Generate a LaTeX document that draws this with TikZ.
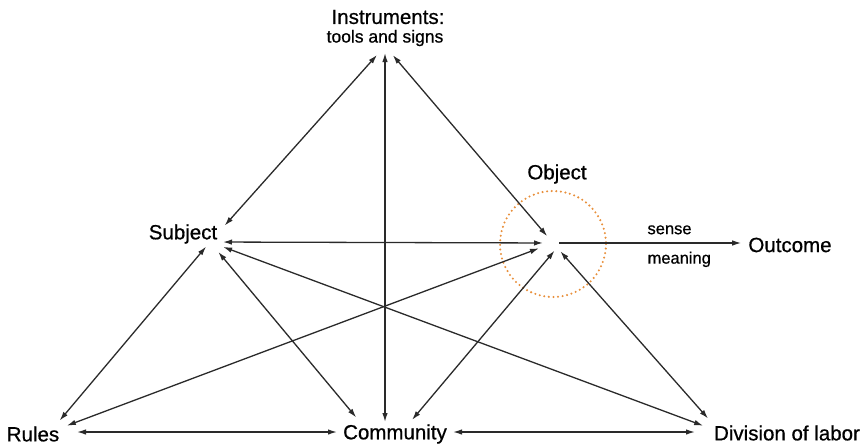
\documentclass[tikz,border=0pt]{standalone}
\usepackage{fontspec}
\setmainfont{Liberation Sans}
\newfontfamily\labfont{Liberation Sans}[FakeBold=0.7]
\usetikzlibrary{arrows.meta}
\definecolor{lineC}{HTML}{2A2A2A}
\definecolor{dotC}{HTML}{E8903C}
\begin{document}
\begin{tikzpicture}[x=1pt,y=-1pt,
  lab/.style={font=\labfont\fontsize{20.5}{22}\selectfont, inner sep=1pt},
  small/.style={font=\labfont\fontsize{17.5}{19}\selectfont, inner sep=1pt},
  tiny/.style={font=\labfont\fontsize{16.5}{18}\selectfont, inner sep=1pt},
  link/.style={draw=lineC, line width=1.3pt, {Latex[length=9pt,width=5.5pt]}-{Latex[length=9pt,width=5.5pt]}},
  onew/.style={draw=lineC, line width=1.3pt, -{Latex[length=9pt,width=5.5pt]}},
  dotring/.style={draw=dotC, line width=2.3pt, line cap=round, dash pattern=on 0pt off 4.6pt}
]
\useasboundingbox (0,0) rectangle (868,447);
% hubs
\coordinate (I) at (385,46);
\coordinate (S) at (210,242);
\coordinate (O) at (553,243);
\coordinate (R) at (50,432);
\coordinate (C) at (385,452);
\coordinate (D) at (720,432);
% labels
\node[lab] (Ilab) at (388,17) {Instruments:};
\node[small] (Ilab2) at (385,38) {tools and signs};
\node[lab] (Slab) at (183,234) {Subject};
\node[lab] (Olab) at (557,174) {Object};
\node[lab] (Out) at (790,245) {Outcome};
\node[lab] (Rlab) at (33,434) {Rules};
\node[lab] (Clab) at (395,434) {Community};
\node[lab] (Dlab) at (787,433) {Division of labor};
% dotted circle
\draw[dotring] (O) ++(0,1) circle[radius=53];
% connectors
\draw[link, shorten <=12pt, shorten >=22pt] (I) -- (S);
\draw[link, shorten <=12pt, shorten >=9pt] (I) -- (O);
\draw[link, shorten <=7pt, shorten >=30pt] (I) -- (C);
\draw[link, shorten <=13pt, shorten >=10pt] (S) -- (O);
\draw[link, shorten <=6pt, shorten >=15pt] (S) -- (R);
\draw[link, shorten <=13pt, shorten >=45pt] (S) -- (C);
\draw[link, shorten <=14pt, shorten >=18pt] (S) -- (D);
\draw[link, shorten <=15pt, shorten >=18pt] (O) -- (R);
\draw[link, shorten <=10pt, shorten >=42pt] ([xshift=8pt]O) -- (C);
\draw[link, shorten <=11pt, shorten >=18pt] (O) -- (D);
\draw[link, shorten <=44pt, shorten >=58pt] (Rlab.center |- R) -- (Clab.center |- R);
\draw[link, shorten <=58pt, shorten >=92pt] (Clab.center |- D) -- (Dlab.center |- D);
\draw[onew, shorten <=6pt, shorten >=6pt] (O) -- (Out.west |- O)
  node[pos=0.6, above=7pt, tiny] (sense) {sense}
  node[pos=0.65, below=7pt, tiny] (meaning) {meaning};
\end{tikzpicture}
\end{document}
